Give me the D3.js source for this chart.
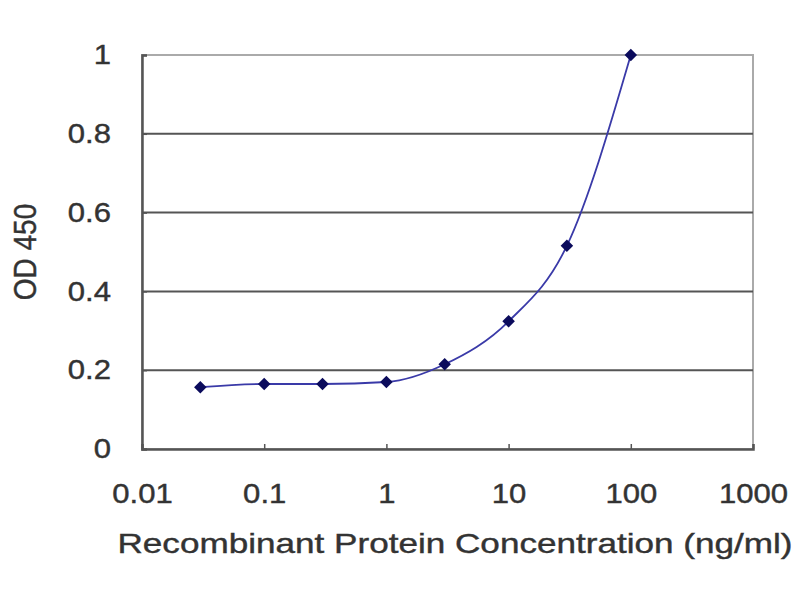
<!DOCTYPE html>
<html>
<head>
<meta charset="utf-8">
<script src="https://cdn.jsdelivr.net/npm/d3@7"></script>
<style>
  body { margin: 0; background: #fff; }
  text { font-family: "Liberation Sans", Arial, sans-serif; fill: #333; stroke: #333; stroke-width: 0.4px; }
</style>
</head>
<body>
<svg id="chart" width="800" height="600"></svg>
<script>
// data
var concentrations = [0.03, 0.1, 0.3, 1, 3, 10, 30, 100];
var odValues = [0.157, 0.165, 0.165, 0.17, 0.215, 0.324, 0.516, 1.0];
var xTicks = [0.01, 0.1, 1, 10, 100, 1000];
var xTickLabels = ["0.01", "0.1", "1", "10", "100", "1000"];
var yTicks = [0, 0.2, 0.4, 0.6, 0.8, 1];
var yTickLabels = ["0", "0.2", "0.4", "0.6", "0.8", "1"];

var points = concentrations.map(function (c, i) { return [c, odValues[i]]; });

var svg = d3.select("#chart");
var plotLeft = 142, plotRight = 753, plotTop = 55, plotBottom = 449;
var stretch = 1.15; // the picture is a bit wider than tall

var x = d3.scaleLog().domain([0.01, 1000]).range([plotLeft, plotRight]);
var y = d3.scaleLinear().domain([0, 1]).range([plotBottom, plotTop]);

// plot border (light on top/right)
svg.append("rect")
  .attr("x", plotLeft).attr("y", plotTop)
  .attr("width", plotRight - plotLeft).attr("height", plotBottom - plotTop)
  .style("fill", "#fff")
  .style("stroke", "#aaa")
  .style("stroke-width", 2);

// gridlines
svg.append("g")
  .selectAll("line")
  .data(yTicks.filter(function (d) { return d > 0 && d < 1; }))
  .enter()
  .append("line")
    .attr("x1", plotLeft).attr("x2", plotRight)
    .attr("y1", function (d) { return y(d); })
    .attr("y2", function (d) { return y(d); })
    .style("stroke", "#555")
    .style("stroke-width", 2);

// Y axis
var yAxis = svg.append("g")
  .attr("transform", "translate(" + plotLeft + ",0)")
  .call(d3.axisLeft(y).tickValues(yTicks)
    .tickFormat(function (d, i) { return yTickLabels[i]; })
    .tickSize(-5).tickPadding(0));
yAxis.select(".domain").style("stroke", "#555").style("stroke-width", 2.5);
yAxis.selectAll(".tick line").style("stroke", "#555").style("stroke-width", 1.5);
yAxis.selectAll(".tick text")
  .attr("x", 0)
  .attr("transform", "translate(-31,0) scale(" + stretch + ",1)")
  .style("font-size", "27px");

// X axis
var xAxis = svg.append("g")
  .attr("transform", "translate(0," + plotBottom + ")")
  .call(d3.axisBottom(x).tickValues(xTicks)
    .tickFormat(function (d, i) { return xTickLabels[i]; })
    .tickSize(-5).tickPadding(0));
xAxis.select(".domain").style("stroke", "#555").style("stroke-width", 2.5);
xAxis.selectAll(".tick line").style("stroke", "#555").style("stroke-width", 1.5);
xAxis.selectAll(".tick text")
  .attr("y", 0)
  .attr("dy", null)
  .attr("transform", "translate(0,54) scale(" + stretch + ",1)")
  .style("font-size", "27px");

// fitted curve
var line = d3.line()
  .x(function (d) { return x(d[0]); })
  .y(function (d) { return y(d[1]); })
  .curve(d3.curveMonotoneX);

svg.append("path")
  .datum(points)
  .attr("d", line)
  .style("fill", "none")
  .style("stroke", "#3a3aa8")
  .style("stroke-width", 1.8);

// diamond markers
svg.append("g")
  .selectAll("path")
  .data(points)
  .enter()
  .append("path")
    .attr("transform", function (d) { return "translate(" + x(d[0]) + "," + y(d[1]) + ")"; })
    .attr("d", d3.symbol().type(d3.symbolDiamond2).size(100))
    .style("fill", "#0b0b5c");

// axis titles
svg.append("text")
  .attr("x", 455)
  .attr("y", 553)
  .attr("text-anchor", "middle")
  .attr("textLength", 675)
  .attr("lengthAdjust", "spacingAndGlyphs")
  .style("font-size", "28px")
  .text("Recombinant Protein Concentration (ng/ml)");

svg.append("text")
  .attr("text-anchor", "middle")
  .attr("transform", "translate(36,252) scale(" + stretch + ",1) rotate(-90)")
  .style("font-size", "28px")
  .text("OD 450");
</script>
</body>
</html>
